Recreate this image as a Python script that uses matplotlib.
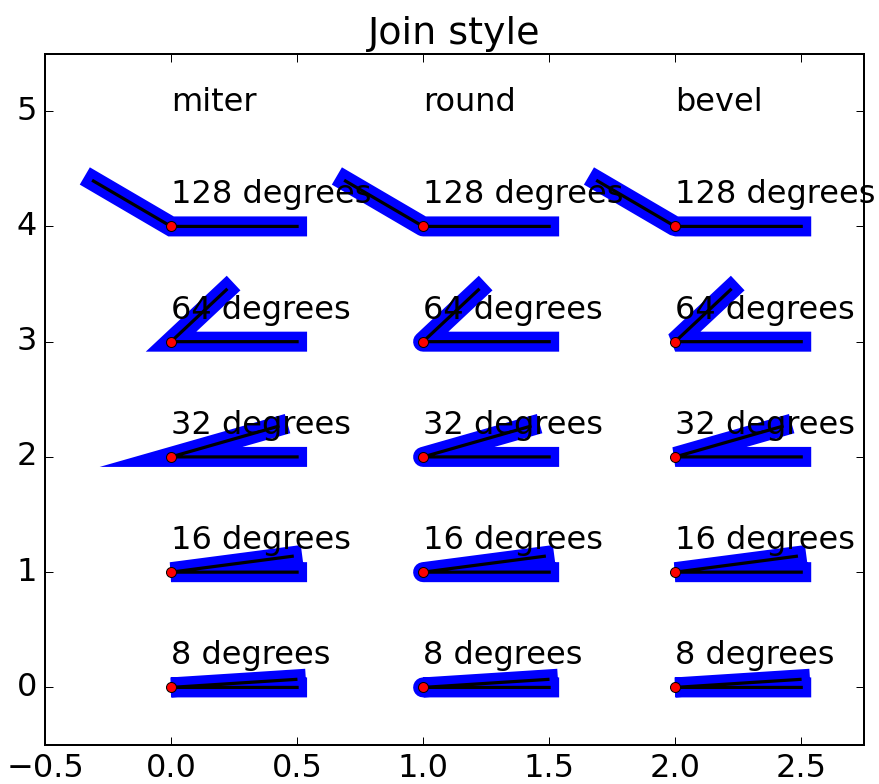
import numpy as np
import matplotlib
matplotlib.use("Agg")
import matplotlib.pyplot as plt

styles = ['miter', 'round', 'bevel']
angles = [8, 16, 32, 64, 128]
angle_labels = ['8 degrees', '16 degrees', '32 degrees', '64 degrees', '128 degrees']

plt.style.use('classic')
plt.rcParams['font.size'] = 16
fig = plt.figure(figsize=(879 / 144, 784 / 144), dpi=144)
ax = fig.add_axes([0.0512, 0.0497, 0.932, 0.882])

MITER_LIMIT = 4.0  # renderer miter limit of the reference (SVG default)


def plot_angle(ax, x, y, angle, style):
    phi = np.radians(angle)
    xx = [x + .5, x, x + .5 * np.cos(phi)]
    yy = [y, y, y + .5 * np.sin(phi)]
    join = style
    if style == 'miter' and 1.0 / np.sin(phi / 2) > MITER_LIMIT:
        join = 'bevel'
    ax.plot(xx, yy, lw=10, color='blue', solid_joinstyle=join)
    ax.plot(xx, yy, lw=1.6, color='black')
    ax.plot(xx[1], yy[1], 'o', color='red', markersize=5)


ax.set_title('Join style', fontsize=19)
for x, style in enumerate(styles):
    ax.text(x, 5, style, fontsize=16)
    for y, angle in enumerate(angles):
        plot_angle(ax, x, y, angle, style)
        ax.text(x, y + 0.2, angle_labels[y], fontsize=16)

ax.set_xlim(-.5, 2.75)
ax.set_ylim(-.5, 5.5)
ax.tick_params(labelsize=16)
fig.savefig('out.png', dpi=144)
